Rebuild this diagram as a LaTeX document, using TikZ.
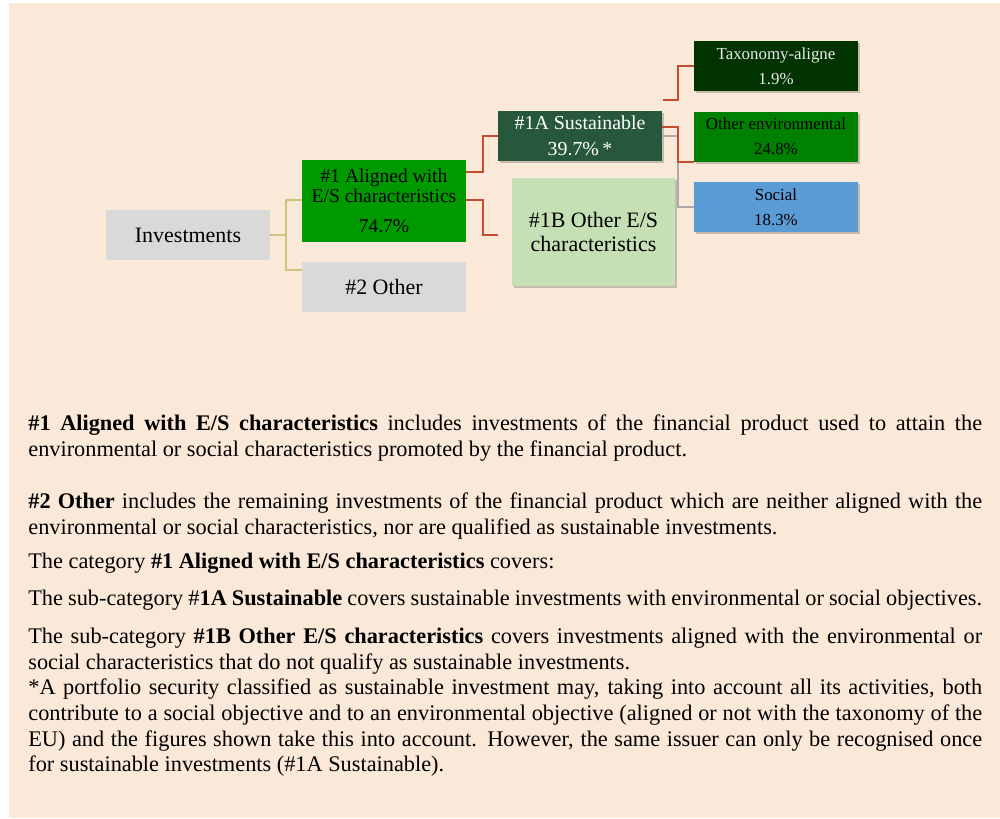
\documentclass[tikz,border=0pt]{standalone}
\usepackage{fontspec}
\setmainfont{Liberation Serif}
\usetikzlibrary{positioning,calc,shadows}

\definecolor{bgpeach}{RGB}{250,232,216}
\definecolor{boxgray}{RGB}{217,217,217}
\definecolor{alignedgreen}{RGB}{0,153,0}
\definecolor{susgreen}{RGB}{40,88,60}
\definecolor{othergreen}{RGB}{197,224,180}
\definecolor{taxgreen}{RGB}{0,51,0}
\definecolor{envgreen}{RGB}{0,128,0}
\definecolor{socblue}{RGB}{91,155,213}
\definecolor{linered}{RGB}{200,76,46}
\definecolor{linetan}{RGB}{207,194,122}
\definecolor{linegray}{RGB}{170,170,170}

\newcommand\bodytext{\fontsize{12.7}{14.63}\selectfont}
\newcommand\bigboxtext{\fontsize{12.5}{13.6}\selectfont}
\newcommand\midboxtext{\fontsize{11.1}{11.3}\selectfont}
\newcommand\susboxtext{\fontsize{11.3}{14.7}\selectfont}
\newcommand\smallboxtext{\fontsize{9.6}{14.2}\selectfont}

\begin{document}
\begin{tikzpicture}[
			x=0.02cm, y=-0.02cm,
			box/.style={
				minimum width=3.28cm,
				minimum height=1cm,
				inner sep=1pt,
				align=center
			},
			shadowed/.style={
				drop shadow={shadow xshift=0.04cm,shadow yshift=-0.04cm,
					opacity=0.2,fill=black}
			},
			link/.style={line width=0.04cm},
			para/.style={
				anchor=north west,
				inner sep=0pt,
				text width=19.08cm,
				align=justify,
				font=\bodytext
			}
			]
			
			\useasboundingbox (0,0) rectangle (1000,818);
			\fill[white] (0,0) rectangle (1000,818);
			\fill[bgpeach] (9,3) rectangle (1000,818);
			
			% tree
			\node[box,fill=boxgray,font=\bigboxtext] (inv) at (188,235) {Investments};
			\node[box,fill=alignedgreen,minimum height=1.66cm,font=\midboxtext] (aligned) at (384,201)
				{\#1 Aligned with\\E/S characteristics\\[0.22cm]74.7\%};
			\node[box,fill=boxgray,font=\bigboxtext] (other) at (384,287) {\#2 Other};
			\node[box,shadowed,fill=susgreen,text=white,font=\susboxtext] (susA) at (580,136)
				{\#1A Sustainable\\39.7\%\,*};
			\node[box,shadowed,fill=othergreen,minimum width=3.26cm,minimum height=2.16cm,font=\bigboxtext] (susB) at (593.5,232)
				{\#1B Other E/S\\characteristics};
			\node[box,shadowed,fill=taxgreen,text=white!92!black,font=\smallboxtext] (tax) at (776,66)
				{Taxonomy-aligne\\1.9\%};
			\node[box,shadowed,fill=envgreen,font=\smallboxtext,below=0.4cm of tax] (env)
				{Other environmental\\24.8\%};
			\node[box,shadowed,fill=socblue,font=\smallboxtext,below=0.4cm of env] (soc)
				{Social\\18.3\%};
			
			\coordinate (taxstart) at ($(susA.north east)+(1,-11)$);
			
			\draw[link,linetan] (inv.east) -- ++(16,0) |- ($(aligned.west)+(0,-1)$);
			\draw[link,linetan] (inv.east) -- ++(16,0) |- ($(other.north west)+(0,8)$);
			\draw[link,linered] ($(aligned.north east)+(0,13)$) -- ++(17,0) |- (susA.west);
			\draw[link,linered,shorten >=0.28cm] ($(aligned.east)+(0,-1)$) -- ++(17,0) |- ($(susB.west)+(0,3)$);
			\draw[link,linered] (taxstart) -- ++(15,0) |- (tax.west);
			\draw[link,linegray] (susA.east) -- ++(16,0) |- (soc.west);
			\draw[link,linered] ($(susA.east)+(0,-9)$) -- ++(16,0) |- (env.south west);
			
			% definitions
			\node[para] (defaligned) at (28,412) {\strut\textbf{\#1 Aligned with E/S characteristics} includes investments of the financial product used to attain the \linebreak environmental or social characteristics promoted by the financial product.};
			\node[para] (defother) at (28,490) {\strut\textbf{\#2 Other} includes the remaining investments of the financial product which are neither aligned with the \linebreak environmental or social characteristics, nor are qualified as sustainable investments.};
			\node[para] (defcat) at (28,550) {\strut The category \textbf{\#1 Aligned with E/S characteristics} covers:};
			\node[para] (defsusA) at (28,587) {\parfillskip=0pt\strut The sub-category \#\textbf{1A Sustainable} covers sustainable investments with environmental or social objectives.};
			\node[para] (defsusB) at (28,625) {\strut The sub-category \textbf{\#1B Other E/S characteristics} covers investments aligned with the environmental or \linebreak social characteristics that do not qualify as sustainable investments.\\{}%
				*A portfolio security classified as sustainable investment may, taking into account all its activities, both \linebreak contribute to a social objective and to an environmental objective (aligned or not with the taxonomy of the \linebreak EU) and the figures shown take this into account. However, the same issuer can only be recognised once \linebreak for sustainable investments (\#1A Sustainable).};
			
		\end{tikzpicture}
\end{document}
